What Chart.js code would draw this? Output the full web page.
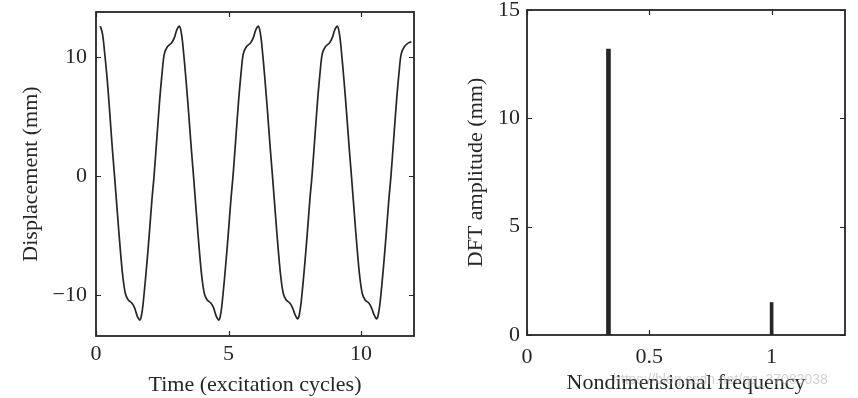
<!DOCTYPE html>
<html><head><meta charset="utf-8">
<script src="https://cdn.jsdelivr.net/npm/chart.js@4.4.0/dist/chart.umd.min.js"></script>
<style>
html,body{margin:0;padding:0;background:#fff;}
#wrap{position:relative;width:858px;height:398px;overflow:hidden;background:#fff;}
#c1{position:absolute;left:0;top:0;}
#c2{position:absolute;left:430px;top:0;}
#wm{position:absolute;left:613px;top:371px;font:14px "Liberation Sans",sans-serif;color:rgba(165,165,165,0.5);white-space:nowrap;}
</style></head><body>
<div id="wrap">
<canvas id="c1" width="430" height="398"></canvas>
<canvas id="c2" width="428" height="398"></canvas>
<div id="wm">https://blog.csdn.net/qq_37083038</div>
</div>
<script>
// ---- Left panel data: displacement time history ----
const timeCycles = [0.15,0.17,0.25,0.32,0.42,0.52,0.62,
0.70,0.81,0.91,1.01,1.11,1.21,1.36,1.46,1.56,1.66,1.74,1.81,1.91,2.01,2.11,
2.19,2.30,2.40,2.50,2.58,2.70,2.85,2.95,3.05,3.15,3.23,3.30,3.40,3.50,3.60,
3.68,3.79,3.89,3.99,4.09,4.19,4.34,4.44,4.54,4.64,4.72,4.79,4.89,4.99,5.09,
5.17,5.28,5.38,5.48,5.56,5.68,5.83,5.93,6.03,6.13,6.21,6.28,6.38,6.48,6.58,
6.66,6.77,6.87,6.97,7.07,7.17,7.32,7.42,7.52,7.62,7.70,7.77,7.87,7.97,8.07,
8.15,8.26,8.36,8.46,8.54,8.66,8.81,8.91,9.01,9.11,9.19,9.26,9.36,9.46,9.56,
9.64,9.75,9.85,9.95,10.05,10.15,10.30,10.40,10.50,10.60,10.68,10.75,10.85,10.95,11.05,
11.13,11.24,11.34,11.44,11.52,11.64,11.79,11.90];
const displacementMm = [12.5,12.55,11.9,10.5,8.2,5.3,2.2,
0,-3.2,-6.0,-8.4,-9.9,-10.4,-10.7,-11.1,-11.8,-12.1,-11.4,-10.0,-7.6,-4.9,-2.0,
0,3.3,6.3,8.8,10.3,10.9,11.2,11.6,12.3,12.6,11.9,10.5,8.0,5.2,2.2,
0,-3.2,-6.0,-8.4,-9.9,-10.4,-10.7,-11.1,-11.8,-12.1,-11.4,-10.0,-7.6,-4.9,-2.0,
0,3.3,6.3,8.8,10.3,10.9,11.2,11.6,12.3,12.6,11.9,10.5,8.0,5.2,2.2,
0,-3.2,-6.0,-8.4,-9.9,-10.4,-10.7,-11.1,-11.7,-12.0,-11.3,-10.0,-7.6,-4.9,-2.0,
0,3.3,6.3,8.8,10.3,10.9,11.2,11.6,12.3,12.6,11.9,10.5,8.0,5.2,2.2,
0,-3.2,-6.0,-8.4,-9.9,-10.4,-10.7,-11.1,-11.7,-12.0,-11.3,-10.0,-7.6,-4.9,-2.0,
0,3.3,6.3,8.8,10.3,10.9,11.2,11.3];
const timeTicks = [0,5,10];
const dispTicks = [-10,0,10];

// ---- Right panel data: DFT amplitude spectrum ----
const frequency = [0.333,1.0];
const dftAmplitude = [13.2,1.5];
const freqTicks = [0,0.5,1];
const ampTicks = [0,5,10,15];

const FONT = {family:'"Liberation Serif","Times New Roman",serif', size:22};
const INK = '#262626';

function fixScale(w,h){
  return function(s){
    if(w!=null) s.width=w;
    if(h!=null) s.height=h;
    s.paddingTop=0;s.paddingBottom=0;s.paddingLeft=0;s.paddingRight=0;
  };
}
function setTicks(arr){ return function(s){ s.ticks = arr.map(v=>({value:v})); }; }
function fmt(v){ return v<0 ? '\u2212'+Math.abs(v) : String(v); }

const framePlugin = {
  id:'frame',
  afterDraw(chart){
    const {ctx, chartArea:a, scales} = chart;
    ctx.save();
    ctx.strokeStyle = INK;
    ctx.lineWidth = 1.2;
    const L = 5;
    scales.x.ticks.forEach(t=>{
      const p = Math.round(scales.x.getPixelForValue(t.value))+0.5;
      ctx.beginPath();
      ctx.moveTo(p,a.bottom);ctx.lineTo(p,a.bottom-L);
      ctx.moveTo(p,a.top);ctx.lineTo(p,a.top+L);
      ctx.stroke();
    });
    scales.y.ticks.forEach(t=>{
      const p = Math.round(scales.y.getPixelForValue(t.value))+0.5;
      ctx.beginPath();
      ctx.moveTo(a.left,p);ctx.lineTo(a.left+L,p);
      ctx.moveTo(a.right,p);ctx.lineTo(a.right-L,p);
      ctx.stroke();
    });
    ctx.lineWidth = 1.8;
    ctx.strokeRect(a.left, a.top, a.right-a.left, a.bottom-a.top);
    ctx.restore();
  }
};

Chart.defaults.font.family = FONT.family;
Chart.defaults.color = INK;

new Chart(document.getElementById('c1'), {
  type:'line',
  data:{ datasets:[{
    data: timeCycles.map((t,i)=>({x:t,y:displacementMm[i]})),
    borderColor:INK, borderWidth:1.7, pointRadius:0, tension:0.35, fill:false
  }]},
  options:{
    responsive:false, animation:false, devicePixelRatio:1,
    layout:{padding:{top:12,right:16,left:0,bottom:0}},
    plugins:{legend:{display:false},tooltip:{enabled:false}},
    scales:{
      x:{type:'linear',min:0,max:12,
        afterBuildTicks:setTicks(timeTicks), afterFit:fixScale(null,62),
        grid:{display:false,drawTicks:false}, border:{display:false},
        ticks:{font:FONT,color:INK,padding:5,maxRotation:0,callback:v=>fmt(v)},
        title:{display:true,text:'Time (excitation cycles)',font:FONT,color:INK,padding:{top:0,bottom:0}}},
      y:{type:'linear',min:-13.45,max:13.8,
        afterBuildTicks:setTicks(dispTicks), afterFit:fixScale(96,null),
        grid:{display:false,drawTicks:false}, border:{display:false},
        ticks:{font:FONT,color:INK,padding:9,callback:v=>fmt(v)},
        title:{display:true,text:'Displacement (mm)',font:FONT,color:INK,padding:{top:18,bottom:0}}}
    }
  },
  plugins:[framePlugin]
});

new Chart(document.getElementById('c2'), {
  type:'bar',
  data:{ datasets: frequency.map((f,i)=>({
    data:[{x:f,y:dftAmplitude[i]}],
    backgroundColor:INK, borderWidth:0, barThickness: i===0?4:3, grouped:false
  }))},
  options:{
    responsive:false, animation:false, devicePixelRatio:1,
    layout:{padding:{top:10,right:13,left:0,bottom:0}},
    plugins:{legend:{display:false},tooltip:{enabled:false}},
    scales:{
      x:{type:'linear',min:0,max:1.3,offset:false,
        afterBuildTicks:setTicks(freqTicks), afterFit:fixScale(null,63),
        grid:{display:false,drawTicks:false}, border:{display:false},
        ticks:{font:FONT,color:INK,padding:9,maxRotation:0,callback:v=>fmt(v)},
        title:{display:true,text:'Nondimensional frequency',font:FONT,color:INK,padding:{top:0,bottom:2}}},
      y:{type:'linear',min:0,max:15,
        afterBuildTicks:setTicks(ampTicks), afterFit:fixScale(97,null),
        grid:{display:false,drawTicks:false}, border:{display:false},
        ticks:{font:FONT,color:INK,padding:7,callback:v=>fmt(v)},
        title:{display:true,text:'DFT amplitude (mm)',font:FONT,color:INK,padding:{top:33,bottom:0}}}
    }
  },
  plugins:[framePlugin]
});
</script>
</body></html>
